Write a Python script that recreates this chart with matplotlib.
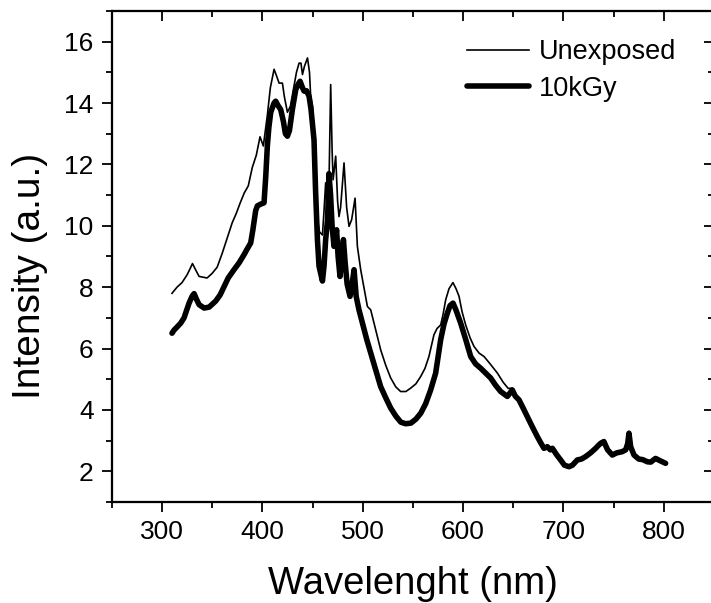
import matplotlib
matplotlib.use("Agg")
import matplotlib.pyplot as plt
from matplotlib.ticker import MultipleLocator

plt.rcParams['font.family'] = ['Liberation Sans', 'DejaVu Sans']

# Unexposed (thin line)
wl_unexp = [310, 315, 320, 325, 328, 330.4, 333, 337, 345, 350, 355, 360, 365, 370, 374, 378,
            382, 386, 390, 394, 397.7, 401, 405, 408, 411.7, 414, 416.7, 420, 422, 425, 428,
            431.6, 434, 436.6, 438.5, 440, 442, 445, 447, 448.2, 450, 452, 454.9, 457, 459.9,
            461.5, 463.1, 464.8, 466.5, 468.1, 469.5, 470.5, 473.1, 475, 476.4, 478, 481.4,
            484, 486.4, 489, 492.4, 494.7, 498, 504.7, 508, 513, 517.9, 523, 527.9, 533,
            537.8, 543, 547.8, 553, 557.8, 562, 566, 571, 574, 577.7, 580, 582.7, 586, 589.9,
            593, 596, 599, 602.6, 607, 610.9, 616, 620.9, 627, 634.2, 640, 645, 649.1, 652,
            656, 660, 664, 669, 674, 677, 680.6, 684, 687, 689, 693, 697.2, 701, 705.5, 709,
            713.8, 718, 722.1, 727, 732.1, 735, 737, 740.3, 744, 748.7, 753, 758.6, 762, 764,
            765.3, 767, 770.3, 775, 779, 783.6, 787, 791.8, 796, 801.8]
int_unexp = [7.8, 8.0, 8.15, 8.4, 8.6, 8.77, 8.6, 8.35, 8.3, 8.45, 8.65, 9.1, 9.6, 10.1, 10.4, 10.75,
             11.07, 11.3, 11.9, 12.3, 12.9, 12.6, 13.6, 14.5, 15.1, 14.9, 14.65, 14.65, 14.2, 13.7, 13.9,
             14.55, 15.0, 15.3, 15.3, 14.93, 15.2, 15.47, 15.0, 14.2, 13.9, 12.5, 10.2, 9.8, 9.7,
             10.5, 11.4, 10.4, 11.5, 14.6, 12.5, 11.5, 12.27, 10.8, 10.3, 10.6, 12.05,
             10.6, 9.98, 10.2, 10.9, 9.33, 8.57, 7.37, 7.26, 6.6, 5.96, 5.45, 5.04, 4.75,
             4.6, 4.6, 4.71, 4.85, 5.09, 5.35, 5.74, 6.45, 6.65, 6.77, 7.1, 7.59, 7.95, 8.15,
             7.95, 7.7, 7.2, 6.77, 6.35, 6.07, 5.85, 5.74, 5.5, 5.2, 4.9, 4.7, 4.71, 4.55,
             4.33, 4.15, 3.85, 3.5, 3.18, 3.0, 2.8, 2.85, 2.75, 2.78, 2.6, 2.42, 2.25, 2.18, 2.22,
             2.4, 2.45, 2.52, 2.65, 2.8, 2.9, 2.97, 3.0, 2.75, 2.56, 2.62, 2.66, 2.72, 2.95,
             3.3, 2.85, 2.56, 2.43, 2.4, 2.33, 2.32, 2.44, 2.37, 2.28]

# 10kGy (thick line)
wl_10kgy = [310, 312, 315, 318.7, 322, 327, 330, 332, 334.5, 337, 342, 347, 353.6, 358, 361.9, 366,
            371.8, 377, 381.8, 385, 388.4, 390.5, 393.4, 395.1, 398, 401.7, 403.4, 405, 406.5,
            408.4, 411.7, 413.3, 416, 418.3, 421, 423, 425, 427, 430, 433.3, 435.5, 437.6, 440,
            441.6, 444, 446.6, 448.5, 450, 451.5, 453, 454.9, 456.5, 459.9, 461.5, 463.1, 465,
            466.4, 468, 469.5, 471.4, 474, 475.5, 477.4, 479, 480.8, 482.5, 484.5, 487.4, 489.5,
            491.4, 493.5, 496.3, 500, 504, 508, 513, 517.9, 522.9, 527.9, 533, 538, 542.8, 548,
            553, 557.8, 562.7, 567.7, 572.7, 577.7, 581, 584.4, 587, 590, 593, 597.6, 602.6,
            607.6, 612.5, 617.5, 622.5, 627.5, 632.5, 637.5, 644.1, 649.1, 652, 655.7, 660, 664,
            669, 674, 677, 680.6, 684, 687, 689, 693, 697.2, 701, 705.5, 709, 713.8, 718, 722.1,
            727, 732.1, 735, 737, 740.3, 744, 748.7, 753, 758.6, 762, 764, 765.3, 767, 770.3,
            775, 779, 783.6, 787, 791.8, 796, 801.8]
int_10kgy = [6.5, 6.6, 6.7, 6.83, 7.0, 7.48, 7.7, 7.79, 7.6, 7.43, 7.32, 7.35, 7.55, 7.75, 8.02, 8.3,
             8.57, 8.8, 9.06, 9.25, 9.44, 9.85, 10.5, 10.65, 10.7, 10.75, 11.6, 12.6, 13.2,
             13.7, 14.0, 14.06, 13.9, 13.79, 13.4, 13.0, 12.92, 13.1, 13.8, 14.44, 14.6, 14.71, 14.5,
             14.39, 14.4, 14.22, 13.8, 13.3, 12.8, 11.2, 9.55, 8.68, 8.2, 8.7, 9.55, 10.2,
             11.7, 11.0, 10.0, 9.33, 9.87, 9.0, 8.35, 9.0, 9.55, 8.8, 8.1, 7.7, 8.1,
             8.57, 7.7, 7.26, 6.8, 6.3, 5.85, 5.3, 4.76, 4.4, 4.06, 3.8, 3.6, 3.55, 3.57,
             3.7, 3.89, 4.2, 4.65, 5.2, 6.29, 6.8, 7.16, 7.4, 7.48, 7.25, 6.83, 6.3,
             5.74, 5.5, 5.36, 5.2, 5.04, 4.8, 4.6, 4.44, 4.65, 4.45, 4.33, 4.05, 3.78,
             3.45, 3.13, 2.95, 2.75, 2.8, 2.7, 2.75, 2.55, 2.37, 2.2, 2.15, 2.2, 2.37, 2.4, 2.48,
             2.6, 2.75, 2.85, 2.91, 2.97, 2.7, 2.53, 2.6, 2.64, 2.7, 2.9, 3.24, 2.8, 2.53,
             2.4, 2.38, 2.31, 2.3, 2.42, 2.35, 2.26]

x_ticks = [300, 400, 500, 600, 700, 800]
y_ticks = [2, 4, 6, 8, 10, 12, 14, 16]

fig = plt.figure(figsize=(7.11, 6.03), dpi=100)
ax = fig.add_axes([0.1572, 0.1675, 0.847, 0.8143])

ax.plot(wl_unexp, int_unexp, color='black', lw=1.2, label='Unexposed', solid_joinstyle='round')
ax.plot(wl_10kgy, int_10kgy, color='black', lw=4.0, label='10kGy', solid_joinstyle='round',
        solid_capstyle='round')

ax.set_xlim(250, 850)
ax.set_ylim(1, 17)
ax.set_xticks(x_ticks)
ax.set_yticks(y_ticks)
ax.xaxis.set_minor_locator(MultipleLocator(50))
ax.yaxis.set_minor_locator(MultipleLocator(1))

for s in ax.spines.values():
    s.set_linewidth(1.5)

ax.tick_params(axis='both', which='major', direction='out', length=7, width=1.3,
               labelsize=19, pad=6)
ax.tick_params(axis='both', which='minor', direction='out', length=4, width=1.3)

# top axis (ticks inward, no labels)
axt = ax.twiny()
axt.set_xlim(ax.get_xlim())
axt.set_xticks(x_ticks)
axt.xaxis.set_minor_locator(MultipleLocator(50))
axt.tick_params(axis='x', which='major', direction='in', length=7, width=1.3,
                top=True, bottom=False, labeltop=False, labelbottom=False)
axt.tick_params(axis='x', which='minor', direction='in', length=4, width=1.3,
                top=True, bottom=False)
axt.tick_params(axis='y', left=False, right=False, labelleft=False, labelright=False)
for s in axt.spines.values():
    s.set_linewidth(1.5)

# right axis (ticks inward, no labels)
axr = ax.twinx()
axr.set_ylim(ax.get_ylim())
axr.set_yticks(y_ticks)
axr.yaxis.set_minor_locator(MultipleLocator(1))
axr.tick_params(axis='y', which='major', direction='in', length=7, width=1.3,
                right=True, left=False, labelright=False, labelleft=False)
axr.tick_params(axis='y', which='minor', direction='in', length=4, width=1.3,
                right=True, left=False)
axr.tick_params(axis='x', top=False, bottom=False, labeltop=False, labelbottom=False)
for s in axr.spines.values():
    s.set_linewidth(1.5)

ax.set_xlabel('Wavelenght (nm)', fontsize=27.5, labelpad=16)
ax.set_ylabel('Intensity (a.u.)', fontsize=28, labelpad=8)
ax.yaxis.set_label_coords(-0.106, 0.46)

leg = ax.legend(loc='upper right', frameon=False, fontsize=19.5, handlelength=2.3,
                handletextpad=0.35, borderaxespad=0.0, labelspacing=0.4,
                bbox_to_anchor=(0.955, 0.965))

fig.savefig('out.png', dpi=100)
